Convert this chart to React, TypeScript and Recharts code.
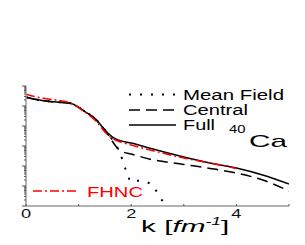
import React from 'react';
import { LineChart, Line, XAxis, YAxis } from 'recharts';

// momentum distribution of 40Ca, values are log10 n(k) (one decade per y tick)
const kFull = [0, 0.2, 0.46, 0.84, 1.12, 1.34, 1.5, 1.66, 1.79, 2.0, 2.36, 3.0, 3.5, 4.0, 4.5, 5.0];
const logFull = [-0.56, -0.68, -0.78, -0.86, -1.28, -1.7, -2.2, -2.58, -2.73, -2.85, -3.11, -3.55, -3.85, -4.1, -4.45, -4.9];

const kCentral = [0, 0.2, 0.46, 0.84, 1.12, 1.34, 1.5, 1.6, 1.72, 1.8, 2.0, 2.36, 3.0, 3.5, 4.0, 4.5, 5.0];
const logCentral = [-0.56, -0.68, -0.78, -0.86, -1.28, -1.7, -2.2, -2.6, -3.05, -3.25, -3.4, -3.66, -3.92, -4.12, -4.35, -4.7, -5.25];

const kMeanField = [0, 0.2, 0.46, 0.84, 1.12, 1.34, 1.5, 1.62, 1.72, 1.79, 1.85, 1.92, 2.0, 2.12, 2.24, 2.45, 2.57, 2.62];
const logMeanField = [-0.56, -0.68, -0.78, -0.86, -1.28, -1.7, -2.2, -2.6, -3.0, -3.35, -3.85, -4.35, -4.8, -4.74, -4.75, -5.15, -5.65, -5.85];

const kFhnc = [0, 0.2, 0.46, 0.84, 1.12, 1.34, 1.5, 1.66, 1.8, 2.0, 2.36, 3.0, 3.5, 4.0];
const logFhnc = [-0.41, -0.55, -0.66, -0.85, -1.3, -1.78, -2.3, -2.65, -2.8, -2.95, -3.2, -3.6, -3.85, -4.12];

const xTicks = [0, 1, 2, 3, 4, 5];
const xLabels = ['0', '', '2', '', '4', ''];
const decades = [0, -1, -2, -3, -4, -5, -6];

const toRows = (ks: number[], vs: number[]) => ks.map((k, i) => ({ k, v: vs[i] }));
const full = toRows(kFull, logFull);
const central = toRows(kCentral, logCentral);
const meanField = toRows(kMeanField, logMeanField);
const fhnc = toRows(kFhnc, logFhnc);

// decade ticks plus the 2..9 minor ticks of a log axis
const yTicks: number[] = [];
decades.forEach(d => {
  yTicks.push(d);
  if (d > -6) for (let m = 2; m <= 9; m++) yTicks.push(d - 1 + Math.log10(m));
});

const AXIS_X = 26;
const AXIS_Y = 206;
const FONT = '"Liberation Sans", Arial, sans-serif';
const GREY = '#9a9a9a';

const YTick = (props: any) => {
  const v = props.payload.value;
  const major = Math.abs(v - Math.round(v)) < 1e-6;
  return <line x1={AXIS_X - (major ? 4 : 2)} x2={AXIS_X} y1={props.y} y2={props.y} stroke="#555" strokeWidth={1} />;
};

const XTick = (props: any) => {
  const idx = xTicks.indexOf(props.payload.value);
  return (
    <g>
      <line x1={props.x} x2={props.x} y1={AXIS_Y} y2={AXIS_Y - 2} stroke="#555" strokeWidth={1} />
      {xLabels[idx] && (
        <g transform={`translate(${props.x},218) scale(1.4,1)`}>
          <text x={0} y={0} textAnchor="middle" fontSize={13} fontFamily={FONT} fill="#111">{xLabels[idx]}</text>
        </g>
      )}
    </g>
  );
};

const App = () => {
  return (
    <div style={{ position: 'fixed', left: 0, top: 0, width: 305, height: 245, background: '#fff' }}>
      <LineChart width={305} height={245} margin={{ top: 86, right: 16, left: 0, bottom: 0 }}>
        <XAxis type="number" dataKey="k" domain={[0, 5]} ticks={xTicks} interval={0} height={39}
          allowDataOverflow axisLine={{ stroke: GREY, strokeWidth: 1.5 }} tickLine={false} tick={<XTick />} />
        <YAxis type="number" dataKey="v" domain={[-6, 0]} ticks={yTicks} interval={0} width={26}
          allowDataOverflow axisLine={{ stroke: GREY, strokeWidth: 1.5 }} tickLine={false} tick={<YTick />} />
        <Line data={meanField} dataKey="v" type="monotone" stroke="#000" strokeWidth={2}
          strokeDasharray="2 9" dot={false} isAnimationActive={false} />
        <Line data={central} dataKey="v" type="monotone" stroke="#000" strokeWidth={1.5}
          strokeDasharray="11 6" dot={false} isAnimationActive={false} />
        <Line data={full} dataKey="v" type="monotone" stroke="#000" strokeWidth={1.5}
          dot={false} isAnimationActive={false} />
        <Line data={fhnc} dataKey="v" type="monotone" stroke="#f00" strokeWidth={1.5}
          strokeDasharray="9 3 2 3" dot={false} isAnimationActive={false} />
      </LineChart>
      <svg width={305} height={245} style={{ position: 'absolute', left: 0, top: 0, pointerEvents: 'none' }}>
        <line x1={129} x2={176} y1={94.5} y2={94.5} stroke="#000" strokeWidth={2} strokeDasharray="2 9" />
        <line x1={129} x2={176} y1={110} y2={110} stroke="#000" strokeWidth={1.5} strokeDasharray="11 6" />
        <line x1={129} x2={176} y1={125} y2={125} stroke="#000" strokeWidth={1.5} />
        <text x={183} y={99.5} fontSize={14} fontFamily={FONT} textLength={101} lengthAdjust="spacingAndGlyphs">Mean Field</text>
        <text x={183} y={115} fontSize={14} fontFamily={FONT} textLength={65} lengthAdjust="spacingAndGlyphs">Central</text>
        <text x={183} y={130} fontSize={14} fontFamily={FONT} textLength={32} lengthAdjust="spacingAndGlyphs">Full</text>
        <text x={229} y={132.5} fontSize={11} fontFamily={FONT} textLength={16.5} lengthAdjust="spacingAndGlyphs">40</text>
        <text x={249} y={146.5} fontSize={17} fontFamily={FONT} textLength={38} lengthAdjust="spacingAndGlyphs">Ca</text>
        <line x1={33} x2={78} y1={191} y2={191} stroke="#f00" strokeWidth={1.5} strokeDasharray="9 3 2 3" />
        <text x={87} y={197} fontSize={15} fontFamily={FONT} fill="#f00" textLength={56} lengthAdjust="spacingAndGlyphs">FHNC</text>
        <g transform="translate(141,231.5) scale(1.75,1)">
          <text x={0} y={0} fontSize={17} fontFamily={FONT} fill="#000">
            k [<tspan fontStyle="italic">fm</tspan>
            <tspan fontStyle="italic" fontSize={10} dy={-7}>-1</tspan>
            <tspan dy={7}>]</tspan>
          </text>
        </g>
      </svg>
    </div>
  );
};

export default App;
